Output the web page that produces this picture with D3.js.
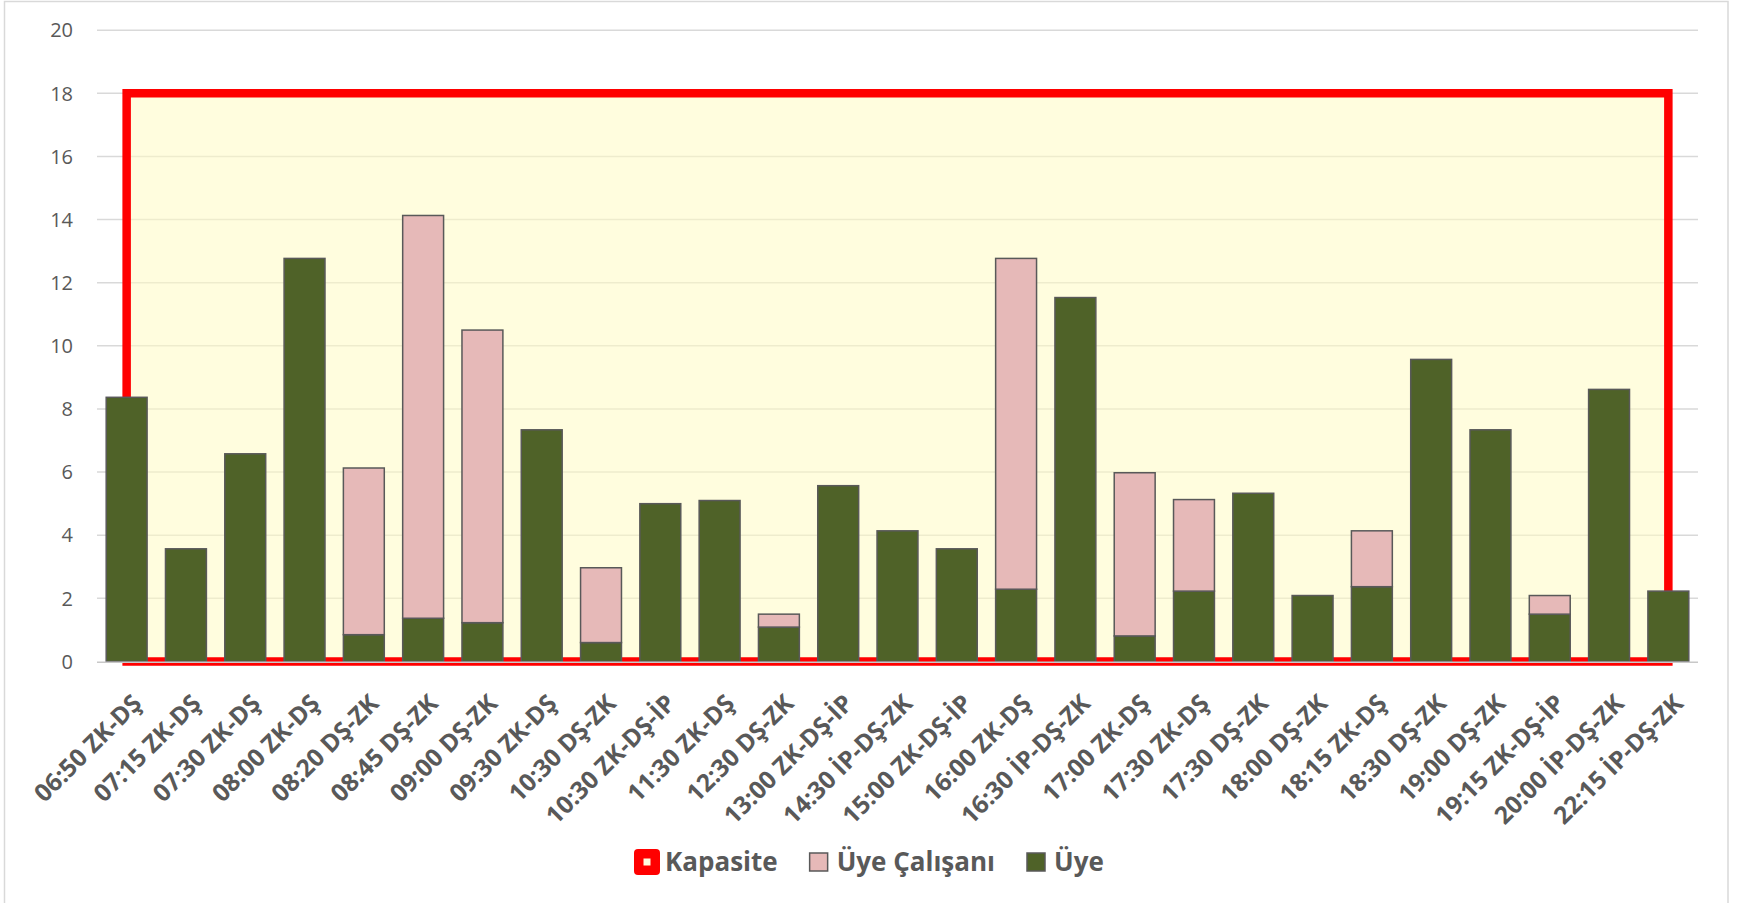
<!DOCTYPE html>
<html lang="tr">
<head>
<meta charset="UTF-8">
<title>Kapasite - Üye</title>
<script src="https://d3js.org/d3.v7.min.js"></script>
<style>
  body { margin: 0; background: #fff; }
  svg { display: block; font-family: "Open Sans", "Noto Sans", sans-serif; }
</style>
</head>
<body>
<svg id="chart" width="1752" height="903"></svg>
<script>
// categories (sefer saati + güzergah)
const categories = [
  "06:50 ZK-DŞ", "07:15 ZK-DŞ", "07:30 ZK-DŞ", "08:00 ZK-DŞ", "08:20 DŞ-ZK",
  "08:45 DŞ-ZK", "09:00 DŞ-ZK", "09:30 ZK-DŞ", "10:30 DŞ-ZK", "10:30 ZK-DŞ-İP",
  "11:30 ZK-DŞ", "12:30 DŞ-ZK", "13:00 ZK-DŞ-İP", "14:30 İP-DŞ-ZK", "15:00 ZK-DŞ-İP",
  "16:00 ZK-DŞ", "16:30 İP-DŞ-ZK", "17:00 ZK-DŞ", "17:30 ZK-DŞ", "17:30 DŞ-ZK",
  "18:00 DŞ-ZK", "18:15 ZK-DŞ", "18:30 DŞ-ZK", "19:00 DŞ-ZK", "19:15 ZK-DŞ-İP",
  "20:00 İP-DŞ-ZK", "22:15 İP-DŞ-ZK"
];
const uye = [
  8.37, 3.57, 6.58, 12.77, 0.85, 1.37, 1.23, 7.34, 0.6, 5.0,
  5.1, 1.09, 5.57, 4.14, 3.57, 2.29, 11.53, 0.81, 2.23, 5.33,
  2.09, 2.37, 9.57, 7.34, 1.5, 8.62, 2.23
];
const uyeCalisani = [
  0, 0, 0, 0, 5.28, 12.76, 9.27, 0, 2.37, 0,
  0, 0.41, 0, 0, 0, 10.48, 0, 5.17, 2.9, 0,
  0, 1.77, 0, 0, 0.59, 0, 0
];
const kapasite = categories.map(() => 18);
const yTicks = [0, 2, 4, 6, 8, 10, 12, 14, 16, 18, 20];
const seriesNames = ["Kapasite", "Üye Çalışanı", "Üye"];

const width = 1752, height = 903;
const plot = { left: 97, right: 1698, top: 30.2, bottom: 661.5 };
const textColor = "#595959";
const colors = { kapasite: "#FF0000", fillYellow: "rgba(255,251,196,0.56)", calisan: "#E6B9B8", uye: "#4F6228" };

const svg = d3.select("#chart");

// chart border
svg.append("rect")
  .attr("x", 4.5).attr("y", 1.5)
  .attr("width", 1723.5).attr("height", 910)
  .attr("fill", "#fff")
  .attr("stroke", "#d9d9d9").attr("stroke-width", 1.5);

const x = d3.scaleBand()
  .domain(categories)
  .range([plot.left, plot.right])
  .paddingInner(0.31)
  .paddingOuter(0.155);

const y = d3.scaleLinear()
  .domain([0, 20])
  .range([plot.bottom, plot.top]);

const cx = d => x(d) + x.bandwidth() / 2;

// gridlines
svg.append("g")
  .selectAll("line")
  .data(yTicks.filter(t => t > 0))
  .enter().append("line")
  .attr("x1", plot.left).attr("x2", plot.right)
  .attr("y1", d => y(d)).attr("y2", d => y(d))
  .attr("stroke", "#d9d9d9").attr("stroke-width", 1.5);

// y tick labels
svg.append("g")
  .selectAll("text")
  .data(yTicks)
  .enter().append("text")
  .attr("x", 73)
  .attr("y", d => y(d))
  .attr("dy", "0.36em")
  .attr("text-anchor", "end")
  .attr("fill", textColor)
  .style("font-size", "20px")
  .text(d => d);

// capacity area
const capData = categories.map((c, i) => ({ c, v: kapasite[i] }));
const area = d3.area()
  .x(d => cx(d.c))
  .y0(y(0))
  .y1(d => y(d.v));

svg.append("path")
  .datum(capData)
  .attr("d", area)
  .attr("fill", colors.fillYellow)
  .attr("stroke", colors.kapasite)
  .attr("stroke-width", 8.5)
  .attr("stroke-linejoin", "miter");

// stacked bars
const rows = categories.map((c, i) => ({ cat: c, uye: uye[i], calisan: uyeCalisani[i] }));
const stack = d3.stack().keys(["uye", "calisan"]);
const layers = stack(rows);

svg.append("g")
  .selectAll("g")
  .data(layers)
  .enter().append("g")
  .attr("fill", d => d.key === "uye" ? colors.uye : colors.calisan)
  .selectAll("rect")
  .data(d => d.filter(s => s[1] - s[0] > 0))
  .enter().append("rect")
  .attr("x", d => x(d.data.cat))
  .attr("y", d => y(d[1]))
  .attr("width", x.bandwidth())
  .attr("height", d => y(d[0]) - y(d[1]))
  .attr("stroke", "#595959")
  .attr("stroke-width", 1.5);

// x axis line
svg.append("line")
  .attr("x1", plot.left).attr("x2", plot.right)
  .attr("y1", y(0) + 0.8).attr("y2", y(0) + 0.8)
  .attr("stroke", "#c8c8c8").attr("stroke-width", 1.6);

// category labels
svg.append("g")
  .selectAll("text")
  .data(categories)
  .enter().append("text")
  .attr("transform", d => `translate(${cx(d) + 4},${y(0) + 31}) rotate(-45)`)
  .attr("dy", "0.72em")
  .attr("text-anchor", "end")
  .attr("fill", textColor)
  .style("font-size", "24.5px")
  .style("font-weight", "bold")
  .text(d => d);

// legend
const legend = svg.append("g").attr("transform", "translate(0,862)");
let lx = 634;
seriesNames.forEach((name, i) => {
  const item = legend.append("g").attr("transform", `translate(${lx},0)`);
  if (i === 0) {
    item.append("rect")
      .attr("x", 0).attr("y", -13).attr("width", 26).attr("height", 26)
      .attr("rx", 4).attr("fill", colors.kapasite);
    item.append("rect")
      .attr("x", 9.5).attr("y", -3.5).attr("width", 7).attr("height", 7)
      .attr("fill", "#FFFDE0");
  } else {
    item.append("rect")
      .attr("x", 4).attr("y", -9).attr("width", 18).attr("height", 18)
      .attr("fill", i === 1 ? colors.calisan : colors.uye)
      .attr("stroke", "#595959").attr("stroke-width", 1.5);
  }
  const t = item.append("text")
    .attr("x", 31)
    .attr("dy", "0.36em")
    .attr("fill", textColor)
    .style("font-size", "26px")
    .style("font-weight", "bold")
    .text(name);
  lx += 31 + t.node().getComputedTextLength() + 28;
});
</script>
</body>
</html>
